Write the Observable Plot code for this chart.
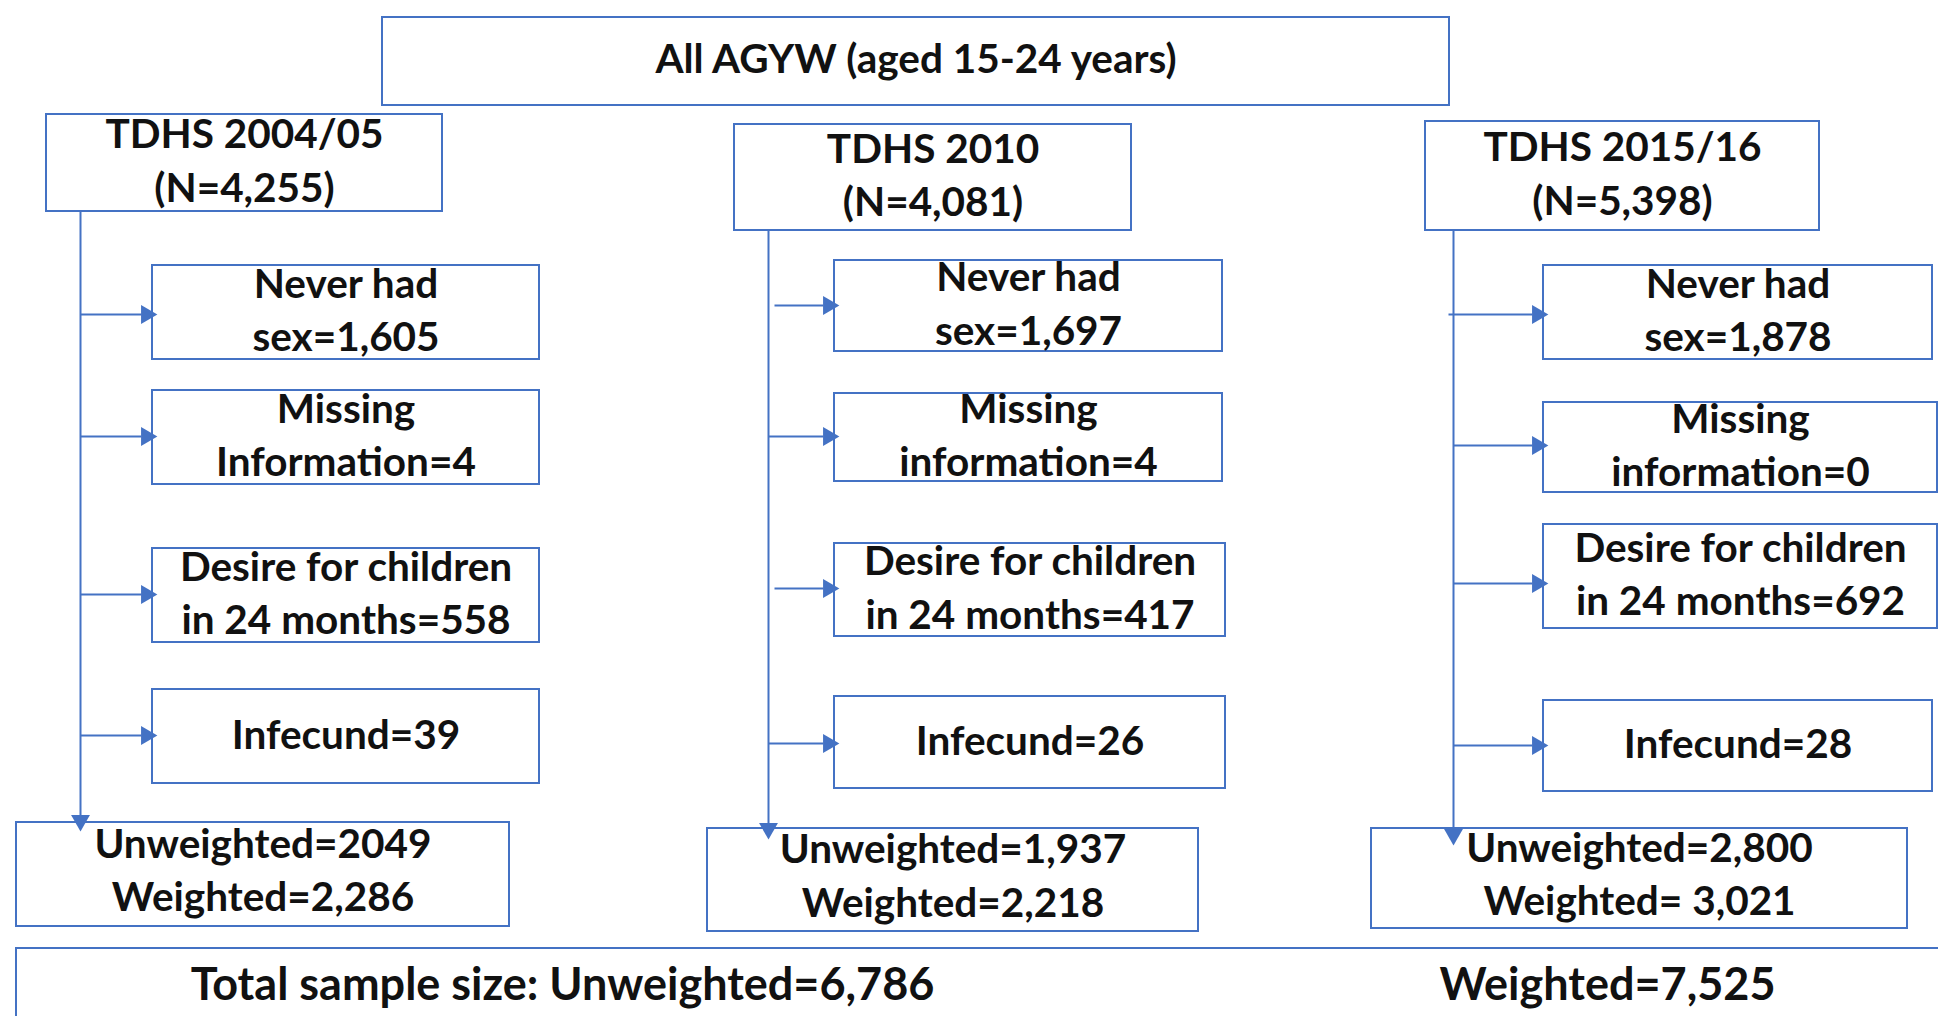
<!DOCTYPE html>
<html>
<head>
<meta charset="utf-8">
<script src="https://cdn.jsdelivr.net/npm/d3@7"></script>
<script src="https://cdn.jsdelivr.net/npm/@observablehq/plot@0.6"></script>
<style>
  html, body { margin: 0; padding: 0; background: #fff; }
  #chart svg { display: block; }
</style>
</head>
<body>
<div id="chart"></div>
<script>
// ---------------- DATA ----------------
const headerLabel = "All AGYW (aged 15-24 years)";
const surveys = ["TDHS 2004/05", "TDHS 2010", "TDHS 2015/16"];
const surveyN = ["4,255", "4,081", "5,398"];
const neverHadSex = ["1,605", "1,697", "1,878"];
const missingWord = ["Information", "information", "information"];
const missingInfo = ["4", "4", "0"];
const desireChildren = ["558", "417", "692"];
const infecund = ["39", "26", "28"];
const unweighted = ["2049", "1,937", "2,800"];
const weighted = ["2,286", "2,218", " 3,021"];
const totalUnweighted = "6,786";
const totalWeighted = "7,525";

// ---------------- LAYOUT (diagram geometry, in page units) ----------------
const W = 1938, H = 1016;
const headerBox = {x1: 382, x2: 1449, y1: 17, y2: 105};
const totalBox = {x1: 16, x2: 1960, y1: 948, y2: 1040};
const totalTextY = 980, totalTextX = [562, 1607];
const surveyBoxes = [[46, 442, 114, 211], [734, 1131, 124, 230], [1425, 1819, 121, 230]];
const exclBoxes = [
  [[152, 539, 265, 359], [152, 539, 390, 484], [152, 539, 548, 642], [152, 539, 689, 783]],
  [[834, 1222, 260, 351], [834, 1222, 393, 481], [834, 1225, 543, 636], [834, 1225, 696, 788]],
  [[1543, 1932, 265, 359], [1543, 1937, 402, 492], [1543, 1937, 524, 628], [1543, 1932, 700, 791]]
];
const trunkX = [80, 768, 1453];
const trunkEnd = [826, 834, 840];
const branchY = [[314, 436, 594, 735], [305, 436, 588, 743], [314, 445, 583, 745]];
const branchX0 = [[80, 80, 80, 80], [774, 768, 774, 768], [1448, 1453, 1453, 1453]];
const finalBoxes = [[16, 509, 822, 926], [707, 1198, 828, 931], [1371, 1907, 828, 928]];

const BLUE = "#4472C4";
const FONT = "Lato, 'Open Sans', sans-serif";
const FS = 40.5;
const FS_TOTAL = 45;
const LH = 1.32;
const head = 12; // arrowhead length

// ---------------- BUILD TABLES ----------------
const boxes = [headerBox, totalBox];
const labels = [
  {x: (headerBox.x1 + headerBox.x2) / 2, y: (headerBox.y1 + headerBox.y2) / 2 - 6, text: headerLabel}
];
const links = [];
const heads = [];

surveys.forEach((s, i) => {
  const [sx1, sx2, sy1, sy2] = surveyBoxes[i];
  boxes.push({x1: sx1, x2: sx2, y1: sy1, y2: sy2});
  labels.push({x: (sx1 + sx2) / 2, y: (sy1 + sy2) / 2 - 5, text: `${s}\n(N=${surveyN[i]})`});

  const texts = [
    `Never had\nsex=${neverHadSex[i]}`,
    `Missing\n${missingWord[i]}=${missingInfo[i]}`,
    `Desire for children\nin 24 months=${desireChildren[i]}`,
    `Infecund=${infecund[i]}`
  ];
  exclBoxes[i].forEach(([x1, x2, y1, y2], j) => {
    boxes.push({x1, x2, y1, y2});
    labels.push({x: (x1 + x2) / 2, y: (y1 + y2) / 2 - 5, text: texts[j]});
    links.push({x1: branchX0[i][j], y1: branchY[i][j], x2: x1 - head + 1, y2: branchY[i][j]});
    heads.push({x: x1 - head / 2, y: branchY[i][j], rotate: 90});
  });

  const [fx1, fx2, fy1, fy2] = finalBoxes[i];
  boxes.push({x1: fx1, x2: fx2, y1: fy1, y2: fy2});
  labels.push({x: (fx1 + fx2) / 2, y: (fy1 + fy2) / 2 - 7, text: `Unweighted=${unweighted[i]}\nWeighted=${weighted[i]}`});

  links.push({x1: trunkX[i], y1: sy2, x2: trunkX[i], y2: trunkEnd[i] - head + 1});
  heads.push({x: trunkX[i], y: trunkEnd[i] - head / 2, rotate: 180});
});

const totals = [
  {x: totalTextX[0], y: totalTextY, text: `Total sample size: Unweighted=${totalUnweighted}`},
  {x: totalTextX[1], y: totalTextY, text: `Weighted=${totalWeighted}`}
];

// ---------------- PLOT ----------------
const textOpts = {
  x: "x", y: "y", text: "text",
  fontWeight: "bold", fontFamily: FONT,
  lineHeight: LH, lineAnchor: "middle", textAnchor: "middle", fill: "#111"
};
const chart = Plot.plot({
  width: W,
  height: H,
  margin: 0,
  style: {background: "#fff", fontFamily: FONT},
  x: {domain: [0, W], range: [0, W], axis: null},
  y: {domain: [0, H], range: [0, H], axis: null},
  marks: [
    Plot.rect(boxes, {x1: "x1", x2: "x2", y1: "y1", y2: "y2", fill: "white", stroke: BLUE, strokeWidth: 2}),
    Plot.link(links, {x1: "x1", y1: "y1", x2: "x2", y2: "y2", stroke: BLUE, strokeWidth: 2}),
    Plot.dot(heads, {x: "x", y: "y", rotate: "rotate", symbol: "triangle", r: 7, fill: BLUE, stroke: null}),
    Plot.text(labels, {...textOpts, fontSize: FS}),
    Plot.text(totals, {...textOpts, fontSize: FS_TOTAL})
  ]
});
document.getElementById("chart").append(chart);
</script>
</body>
</html>
